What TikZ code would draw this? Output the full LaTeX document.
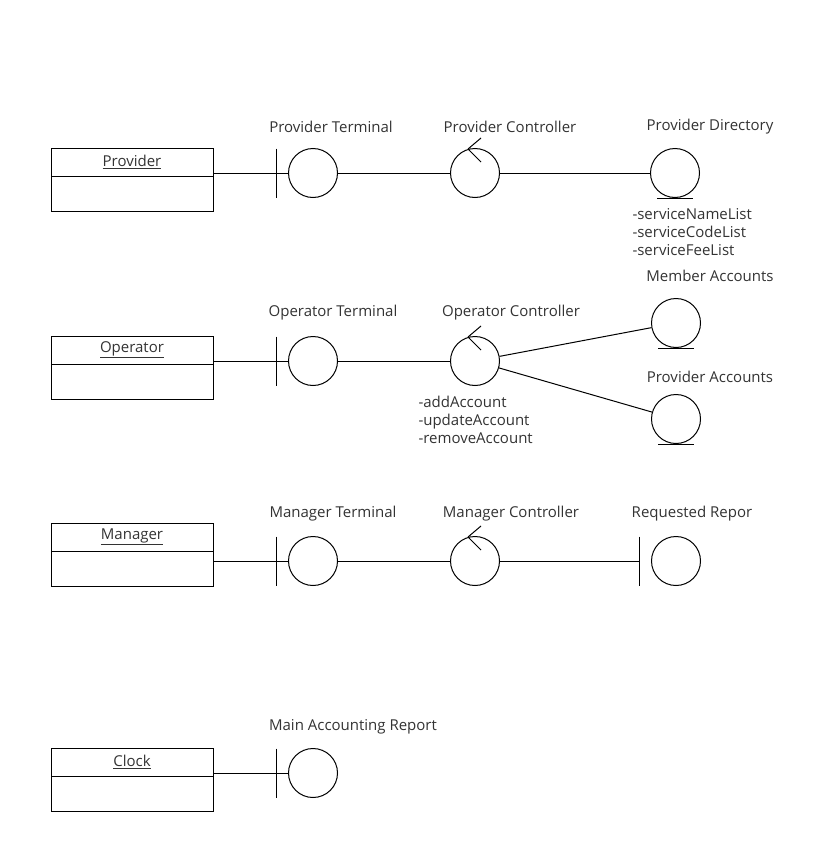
\documentclass[tikz,border=0pt]{standalone}
\usepackage{fontspec}
\setmainfont{Open Sans}
\usetikzlibrary{positioning}
\definecolor{ink}{HTML}{333333}

\begin{document}
\begin{tikzpicture}[x=1pt, y=-1pt, line width=1pt,
        every node/.style={font=\fontsize{15}{17}\selectfont, text=ink},
        objhead/.style={rectangle, draw, minimum width=162pt, minimum height=28pt, inner sep=0pt, outer sep=0pt},
        objbody/.style={rectangle, draw, minimum width=162pt, minimum height=35pt, inner sep=0pt, outer sep=0pt},
        bound/.style={circle, draw, minimum size=49pt, inner sep=0pt},
        ctrl/.style={circle, draw, minimum size=49pt, inner sep=0pt},
        ent/.style={circle, draw, minimum size=49pt, inner sep=0pt},
        attr/.style={align=left, anchor=west, inner sep=0pt, font=\fontsize{15}{18}\selectfont},
        link/.style={draw}
    ]
        \useasboundingbox (0,0) rectangle (818,862);

        % actors
        \node[objhead] (prov) at (132,162) {\underline{Provider}};
        \node[objbody, below=0pt of prov] (provb) {};
        \node[objhead] (oper) at (132,350) {\underline{Operator}};
        \node[objbody, below=0pt of oper] (operb) {};
        \node[objhead] (mgr) at (132,537) {\underline{Manager}};
        \node[objbody, below=0pt of mgr] (mgrb) {};
        \node[objhead] (clk) at (132,762) {\underline{Clock}};
        \node[objbody, below=0pt of clk] (clkb) {};

        % provider row
        \node[bound] (pterm) at (313,173) {};
        \node[ctrl] (pctrl) at (475,173) {};
        \node[ent] (pdir) at (675,173) {};
        \node (pterml) at (331,127) {Provider Terminal};
        \node (pctrll) at (510,127) {Provider Controller};
        \node (pdirl) at (710,127) {Provider Directory};
        \node[attr] (pdira) at (632,232) {-serviceNameList\\-serviceCodeList\\-serviceFeeList};

        % operator row
        \node[bound] (oterm) at (313,361) {};
        \node[ctrl] (octrl) at (475,361) {};
        \node[ent] (macc) at (676,323) {};
        \node[ent] (pacc) at (676,419) {};
        \node (oterml) at (333,313) {Operator Terminal};
        \node (octrll) at (511,313) {Operator Controller};
        \node (maccl) at (710,276) {Member Accounts};
        \node (paccl) at (710,377) {Provider Accounts};
        \node[attr] (octrla) at (418,420) {-addAccount\\-updateAccount\\-removeAccount};

        % manager row
        \node[bound] (mterm) at (313,561) {};
        \node[ctrl] (mctrl) at (475,561) {};
        \node[bound] (rrep) at (676,561) {};
        \node (mterml) at (333,514) {Manager Terminal};
        \node (mctrll) at (511,514) {Manager Controller};
        \node (rrepl) at (692,514) {Requested Repor};

        % clock row
        \node[bound] (mrep) at (313,773) {};
        \node (mrepl) at (353,727) {Main Accounting Report};

        % boundary bars
        \foreach \n in {pterm,oterm,mterm,rrep,mrep}
            \draw ([xshift=-12pt]\n.west) ++(0,-24.5) -- ++(0,49);
        % control arrows
        \foreach \n in {pctrl,octrl,mctrl}
            \draw (\n.north) ++(-7,1) -- ++(13,-11) ++(-13,11) -- ++(13,13);
        % entity lines
        \foreach \n in {pdir,macc,pacc}
            \draw (\n.south west |- \n.south) -- (\n.south east |- \n.south);

        % connectors
        \draw[link] (provb.east |- pterm) -- (pterm);
        \draw[link] (pterm) -- (pctrl);
        \draw[link] (pctrl) -- (pdir);
        \draw[link] (operb.east |- oterm) -- (oterm);
        \draw[link] (oterm) -- (octrl);
        \draw[link] (octrl) -- (macc);
        \draw[link] (octrl) -- (pacc);
        \draw[link] (mgrb.east |- mterm) -- (mterm);
        \draw[link] (mterm) -- (mctrl);
        \draw[link] (mctrl) -- ([xshift=-12pt]rrep.west);
        \draw[link] (clkb.east |- mrep) -- (mrep);
    \end{tikzpicture}
\end{document}
